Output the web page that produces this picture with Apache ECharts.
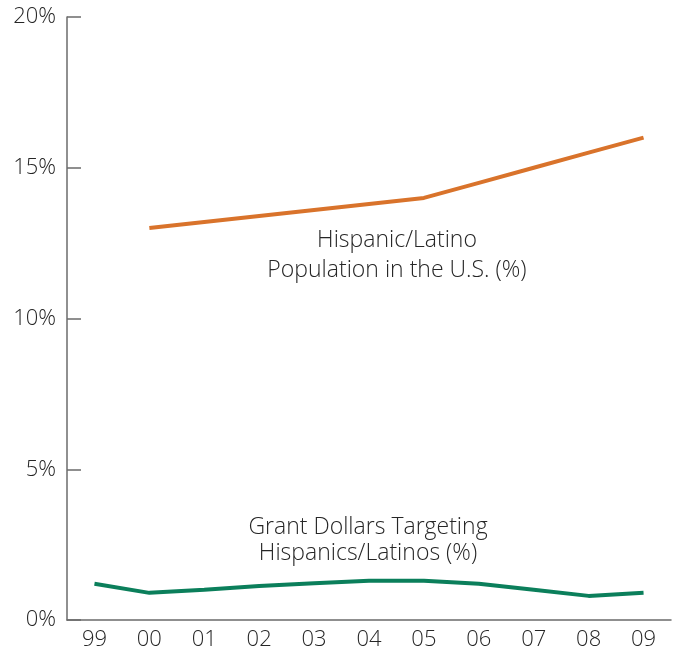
<!DOCTYPE html>
<html>
<head>
<meta charset="utf-8">
<script src="https://cdn.jsdelivr.net/npm/echarts@6/dist/echarts.min.js"></script>
<style>html,body{margin:0;padding:0;background:#fff;}#c{width:673px;height:654px;}</style>
</head>
<body>
<div id="c"></div>
<script>
var categories = ['99','00','01','02','03','04','05','06','07','08','09'];
var populationPct = [null, 13.0, 13.2, 13.4, 13.6, 13.8, 14.0, 14.5, 15.0, 15.5, 16.0];
var grantPct = [1.2, 0.9, 1.0, 1.13, 1.22, 1.3, 1.3, 1.2, 1.0, 0.8, 0.9];
var yTicks = [0, 5, 10, 15, 20];

var FONT = '"Open Sans"';
var chart = echarts.init(document.getElementById('c'));
chart.setOption({
  animation: false,
  grid: {left: 67, right: 2, top: 17, bottom: 34, containLabel: false},
  xAxis: {
    type: 'category',
    data: categories,
    boundaryGap: true,
    axisLine: {lineStyle: {color: '#6b6b6b', width: 1.5}},
    axisTick: {show: false},
    axisLabel: {color: '#262626', fontSize: 22, fontFamily: FONT, fontWeight: 300, margin: 9}
  },
  yAxis: {
    type: 'value',
    min: yTicks[0], max: yTicks[yTicks.length-1], interval: 5,
    axisLine: {show: true, lineStyle: {color: '#6b6b6b', width: 1.5}},
    axisTick: {show: true, inside: true, length: 14, lineStyle: {color: '#6b6b6b', width: 1.5}},
    splitLine: {show: false},
    axisLabel: {color: '#262626', fontSize: 22, fontFamily: FONT, fontWeight: 300, margin: 11,
      formatter: function(v){ return v + '%'; }}
  },
  graphic: [
    {type: 'text', style: {x: 397, y: 225, text: 'Hispanic/Latino\nPopulation in the U.S. (%)', align: 'center', fill: '#262626', fontSize: 23, fontFamily: FONT, fontWeight: 300, lineHeight: 30}},
    {type: 'text', style: {x: 368, y: 514, text: 'Grant Dollars Targeting\nHispanics/Latinos (%)', align: 'center', fill: '#262626', fontSize: 23, fontFamily: FONT, fontWeight: 300, lineHeight: 26}}
  ],
  series: [
    {type: 'line', data: populationPct, symbol: 'none', lineStyle: {color: '#d9732b', width: 4}, connectNulls: false},
    {type: 'line', data: grantPct, symbol: 'none', lineStyle: {color: '#0b7f5b', width: 4}}
  ]
});
</script>
</body>
</html>
